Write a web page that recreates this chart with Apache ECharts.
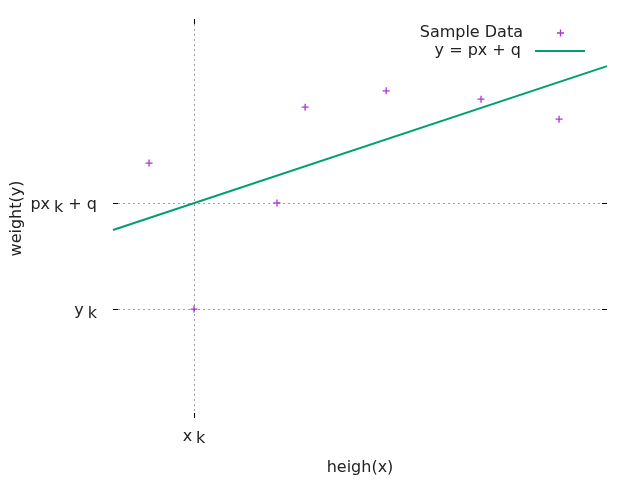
<!DOCTYPE html>
<html>
<head>
<meta charset="utf-8">
<script src="https://cdn.jsdelivr.net/npm/echarts@6/dist/echarts.min.js"></script>
<style>html,body{margin:0;padding:0;background:#fff}#c{width:640px;height:480px}</style>
</head>
<body>
<div id="c"></div>
<script>
var sampleX = [7.3, 38.9, 55.3, 74.5, 90.3, 33.2, 16.4];
var sampleY = [63.9, 77.9, 82.0, 79.9, 74.9, 53.9, 27.3];
var lineX = [0, 100];
var lineY = [47.1, 88.2];
var xTicks = [16.4];
var xTickLabels = ['x{s|k}'];
var yTicks = [27.3, 53.9];
var yTickLabels = ['y{s|k}', 'px{s|k}{n| + q}'];

var FONT = 'DejaVu Sans';
var FS = 16;
var chart = echarts.init(document.getElementById('c'), null, {renderer: 'canvas'});
var rich = {
  s: {fontFamily: FONT, fontSize: FS, color: '#222', padding: [5, 0, 0, 4]},
  n: {fontFamily: FONT, fontSize: FS, color: '#222'}
};
function lab(vals, labels) {
  return function (v) {
    for (var i = 0; i < vals.length; i++) if (Math.abs(vals[i] - v) < 1e-6) return labels[i];
    return '';
  };
}
var gridLine = {show: true, lineStyle: {color: '#a0a0a0', type: [2, 3], width: 1}};
var plus = 'path://M2.85,0h1.3v7h-1.3zM0,2.85h7v1.3h-7z';
var TL = 5;
function tickItem(isX) {
  return function (params, api) {
    var cs = params.coordSys;
    var p = api.coord([api.value(0), api.value(1)]);
    var st = {stroke: '#000', lineWidth: 1};
    if (isX) {
      var x = Math.round(p[0]) + 0.5;
      return {type: 'group', children: [
        {type: 'line', shape: {x1: x, y1: cs.y + cs.height, x2: x, y2: cs.y + cs.height - TL}, style: st},
        {type: 'line', shape: {x1: x, y1: cs.y, x2: x, y2: cs.y + TL}, style: st}
      ]};
    }
    var y = Math.round(p[1]) + 0.5;
    return {type: 'group', children: [
      {type: 'line', shape: {x1: cs.x, y1: y, x2: cs.x + TL, y2: y}, style: st},
      {type: 'line', shape: {x1: cs.x + cs.width, y1: y, x2: cs.x + cs.width - TL, y2: y}, style: st}
    ]};
  };
}
chart.setOption({
  animation: false,
  backgroundColor: '#fff',
  grid: {left: 113, right: 33, top: 19, bottom: 62, show: false, containLabel: false, outerBoundsMode: 'none'},
  legend: [{
    data: [{name: 'Sample Data', icon: plus}], right: 76, top: 25, orient: 'vertical', align: 'right',
    itemWidth: 7, itemHeight: 7, padding: 0, symbolKeepAspect: true,
    textStyle: {fontFamily: FONT, fontSize: FS, color: '#222', padding: [0, 29, 0, 0]}
  }, {
    data: [{name: 'y = px + q', icon: 'rect'}], right: 55, top: 43, orient: 'vertical', align: 'right',
    itemWidth: 50, itemHeight: 2, padding: 0, symbolKeepAspect: false,
    textStyle: {fontFamily: FONT, fontSize: FS, color: '#222', padding: [0, 9, 0, 0]}
  }],
  xAxis: [{
    type: 'value', min: 0, max: 100, position: 'bottom',
    name: 'heigh(x)', nameLocation: 'middle', nameGap: 42, nameMoveOverlap: false,
    nameTextStyle: {fontFamily: FONT, fontSize: FS, color: '#222'},
    axisLine: {show: false},
    axisTick: {show: false, customValues: xTicks},
    axisLabel: {customValues: xTicks, formatter: lab(xTicks, xTickLabels), margin: 8,
      fontFamily: FONT, fontSize: FS, color: '#222', rich: rich},
    splitLine: gridLine
  }],
  yAxis: [{
    type: 'value', min: 0, max: 100, position: 'left',
    name: 'weight(y)', nameLocation: 'middle', nameGap: 88, nameRotate: 90, nameMoveOverlap: false,
    nameTextStyle: {fontFamily: FONT, fontSize: FS, color: '#222'},
    axisLine: {show: false},
    axisTick: {show: false, customValues: yTicks},
    axisLabel: {customValues: yTicks, formatter: lab(yTicks, yTickLabels), margin: 16,
      padding: [4, 0, 0, 0],
      fontFamily: FONT, fontSize: FS, color: '#222', rich: rich},
    splitLine: gridLine
  }],
  series: [{
    name: 'Sample Data', type: 'scatter', symbol: plus, symbolSize: 7,
    itemStyle: {color: '#9400d3'}, z: 4,
    data: sampleX.map(function (x, i) { return [x, sampleY[i]]; })
  }, {
    name: 'y = px + q', type: 'line', symbol: 'none', z: 3,
    lineStyle: {color: '#009e73', width: 2}, itemStyle: {color: '#009e73'},
    data: lineX.map(function (x, i) { return [x, lineY[i]]; })
  }, {
    name: 'xticks', type: 'custom', renderItem: tickItem(true), clip: false, silent: true, z: 5,
    data: xTicks.map(function (v) { return [v, 0]; })
  }, {
    name: 'yticks', type: 'custom', renderItem: tickItem(false), clip: false, silent: true, z: 5,
    data: yTicks.map(function (v) { return [0, v]; })
  }]
});
</script>
</body>
</html>
